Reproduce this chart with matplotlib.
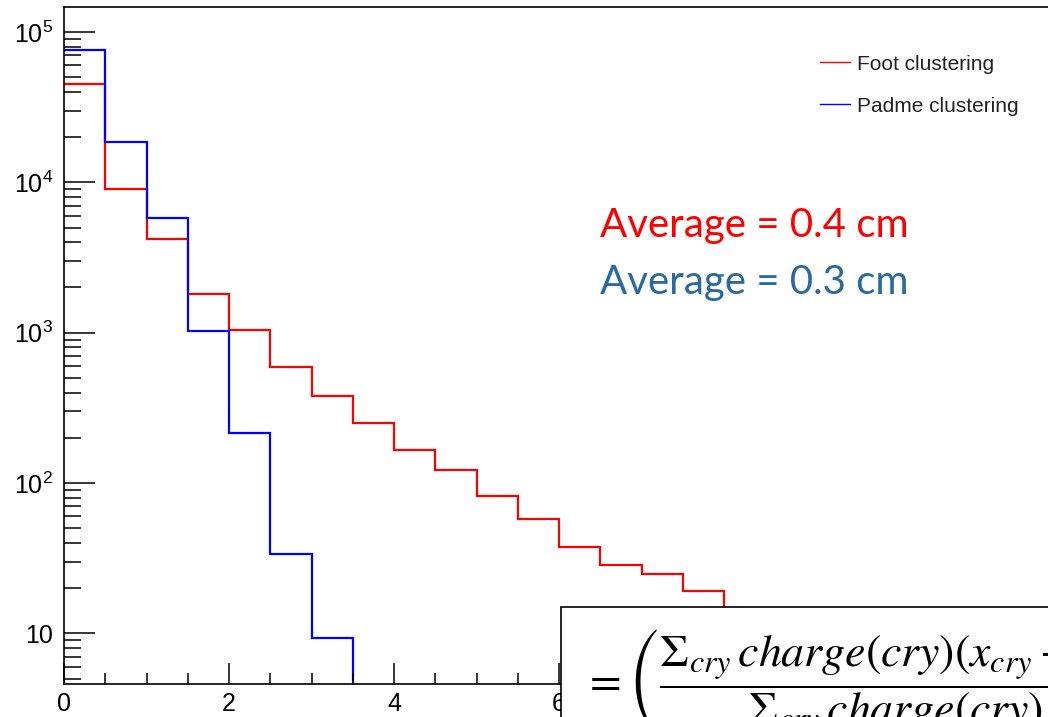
import numpy as np
import matplotlib
matplotlib.use("Agg")
import matplotlib.pyplot as plt
from matplotlib.patches import Rectangle
from matplotlib.lines import Line2D
from matplotlib.ticker import FixedLocator, LogLocator, MultipleLocator, NullFormatter

# ======================
# DATOS
# ======================
bin_width = 0.5
foot = [45300, 9040, 4220, 1800, 1042, 589, 381, 249, 165, 122,
        81.9, 57.6, 37.3, 28.6, 24.8, 19.0, 13]
padme = [76200, 18700, 5820, 1021, 215, 33.6, 9.27, 1]
labels = ["Foot clustering", "Padme clustering"]
y_ticks = [10, 1e2, 1e3, 1e4, 1e5]
y_ticklabels = ["10", r"$\mathregular{10^{2}}$", r"$\mathregular{10^{3}}$",
                r"$\mathregular{10^{4}}$", r"$\mathregular{10^{5}}$"]
x_ticks = [0, 2, 4, 6, 8, 10, 12]
avg_texts = ["Average = 0.4 cm", "Average = 0.3 cm"]

plt.rcParams["font.family"] = ["Liberation Sans", "DejaVu Sans"]
plt.rcParams["mathtext.fontset"] = "stix"

fig = plt.figure(figsize=(10.48, 7.17), dpi=100)
ax = fig.add_axes([64 / 1048, 33 / 717, 990 / 1048, 677 / 717])

foot_edges = np.arange(len(foot) + 1) * bin_width
padme_edges = np.arange(len(padme) + 1) * bin_width
ax.stairs(foot, foot_edges, baseline=None, color="#ff0000", lw=1.6)
ax.stairs(padme, padme_edges, baseline=None, color="#0000ff", lw=1.6)

ax.set_yscale("log")
ax.set_xlim(0, 12)
ax.set_ylim(4.6, 1.47e5)

ax.yaxis.set_major_locator(FixedLocator(y_ticks))
ax.set_yticklabels(y_ticklabels)
ax.yaxis.set_minor_locator(LogLocator(base=10, subs=np.arange(2, 10)))
ax.yaxis.set_minor_formatter(NullFormatter())
ax.set_xticks(x_ticks)
ax.set_xticklabels([str(t) for t in x_ticks])
ax.xaxis.set_minor_locator(MultipleLocator(0.5))

ax.tick_params(axis="y", which="major", direction="in", length=22, width=1.1,
               labelsize=18, pad=8)
ax.tick_params(axis="y", which="minor", direction="in", length=12, width=1.1)
ax.tick_params(axis="x", which="major", direction="in", length=15, width=1.1,
               labelsize=18, pad=6)
ax.tick_params(axis="x", which="minor", direction="in", length=8, width=1.1)
for s in ax.spines.values():
    s.set_linewidth(1.2)

# leyenda
handles = [Line2D([], [], color="#ff0000", lw=1.0),
           Line2D([], [], color="#0000ff", lw=1.0)]
fig.legend(handles, labels, loc="upper left", bbox_to_anchor=(801 / 1048, 1 - 36 / 717),
           frameon=False, fontsize=15, handlelength=1.45, handletextpad=0.35,
           labelspacing=1.1, labelcolor="#222222")

# textos de promedio
fig.text(600 / 1048, 1 - 237 / 717, avg_texts[0], color="#ff0000",
         fontsize=29, family=["Lato", "DejaVu Sans"], va="baseline", ha="left")
fig.text(600 / 1048, 1 - 294 / 717, avg_texts[1], color="#2a6a9e",
         fontsize=29, family=["Lato", "DejaVu Sans"], va="baseline", ha="left")

# caja con la fórmula
box = Rectangle((561 / 1048, -0.1), 0.6, 0.1 + (717 - 607) / 717,
                transform=fig.transFigure, facecolor="white",
                edgecolor="black", lw=1.2, zorder=5)
fig.add_artist(box)
formula = (r"$=\left(\dfrac{\Sigma_{cry}\,charge(cry)(x_{cry}-\bar{x})^2}"
           r"{\Sigma_{cry}\,charge(cry)}\right)^{1/2}$")
fig.text(583 / 1048, 1 - 696 / 717, formula, fontsize=33, color="black",
         va="baseline", ha="left", zorder=6)

fig.savefig("out.png", dpi=100)
